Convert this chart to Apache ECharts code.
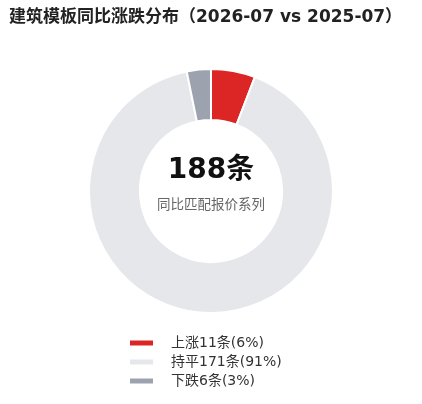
<!DOCTYPE html>
<html><head><meta charset="utf-8">
<script src="https://cdn.jsdelivr.net/npm/echarts@6/dist/echarts.min.js"></script>
<style>html,body{margin:0;padding:0;background:#fff}#c{width:422px;height:404px}</style>
</head><body><div id="c"></div>
<script>
const categories = ['上涨', '持平', '下跌'];
const counts = [11, 171, 6];
const percents = [6, 91, 3];
const colors = ['#dc2626', '#e5e7eb', '#9ca3af'];
const total = 188;

const FONT = 'DejaVu Sans, Noto Sans CJK SC, sans-serif';
const chart = echarts.init(document.getElementById('c'));
const data = categories.map((n, i) => ({ name: n, value: counts[i], itemStyle: { color: colors[i] } }));
chart.setOption({
  animation: false,
  title: {
    text: '建筑模板同比涨跌分布（2026-07 vs 2025-07）',
    left: 4, top: 4,
    textStyle: { fontSize: 17, fontWeight: 'bold', color: '#222', fontFamily: FONT }
  },
  legend: {
    orient: 'vertical', left: 123, top: 331,
    itemWidth: 25, itemHeight: 7, itemGap: 5,
    icon: 'rect',
    textStyle: { fontSize: 14, color: '#333', padding: [0, 0, 0, 12], fontFamily: FONT },
    formatter: function (name) {
      const i = categories.indexOf(name);
      return name + counts[i] + '条(' + percents[i] + '%)';
    }
  },
  graphic: [
    { type: 'text', left: 'center', top: 157, style: { text: total + '条', fontSize: 28, fontWeight: 'bold', fill: '#111', fontFamily: FONT } },
    { type: 'text', left: 'center', top: 199, style: { text: '同比匹配报价系列', fontSize: 13.5, fill: '#666', fontFamily: FONT } }
  ],
  series: [{
    type: 'pie',
    center: [211, 191],
    radius: [71, 122],
    startAngle: 90,
    label: { show: false },
    labelLine: { show: false },
    itemStyle: { borderColor: '#fff', borderWidth: 2 },
    data: data
  }]
});
</script></body></html>
